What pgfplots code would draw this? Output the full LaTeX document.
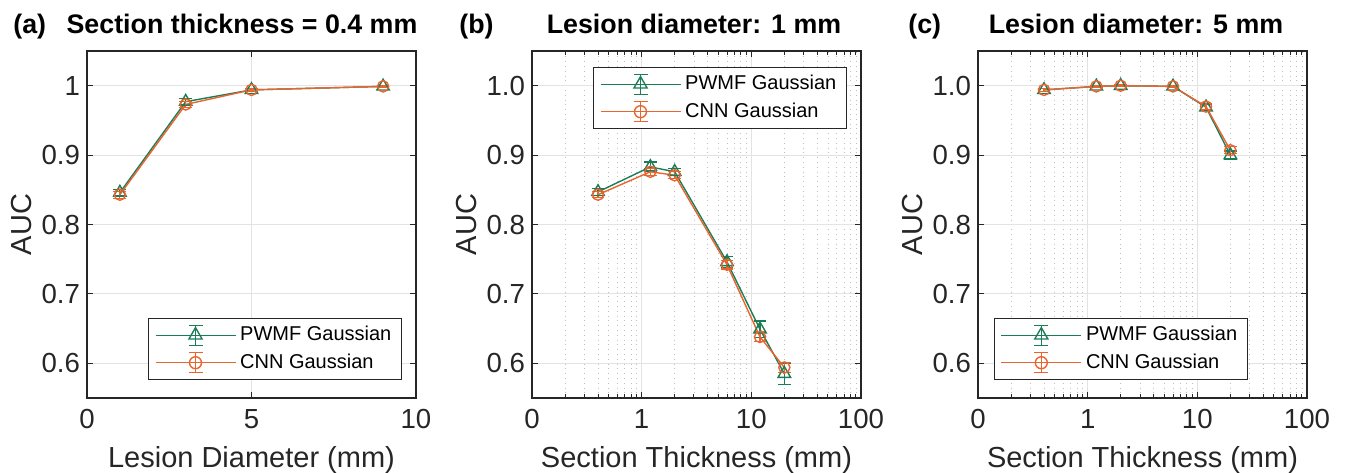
\documentclass[border=0pt]{standalone}
\usepackage{fontspec}
\setmainfont{Liberation Sans}
\usepackage{pgfplots}
\pgfplotsset{compat=1.18}

\definecolor{pwmf}{RGB}{27,125,88}
\definecolor{cnn}{RGB}{234,100,46}
\definecolor{axgray}{RGB}{38,38,38}

\pgfplotsset{
  panel/.style={
    scale only axis, width=164.5pt, height=173.5pt,
    anchor=north west,
    ymin=0.55, ymax=1.05,
    ytick={0.6,0.7,0.8,0.9,1.0},
    axis line style={axgray, line width=0.6pt},
    tick style={axgray, line width=0.5pt},
    tick align=inside,
    major tick length=3pt, minor tick length=1.8pt,
    grid=major,
    major grid style={gray!22, line width=0.5pt},
    minor grid style={gray!50, line width=0.4pt, dotted},
    tick label style={font=\fontsize{13.8}{16}\selectfont, text=axgray},
    xticklabel style={yshift=-2pt},
    label style={font=\fontsize{14.5}{17}\selectfont, text=axgray},
    /pgf/number format/assume math mode=true,
    xlabel style={yshift=-2pt},
    ylabel style={yshift=-2pt},
    ylabel={AUC},
    legend style={font=\fontsize{10}{12}\selectfont, draw=axgray, line width=0.5pt,
      inner xsep=3pt, inner ysep=2pt, row sep=1pt, cells={anchor=west}},
    legend cell align=left,
  },
  pw/.style={pwmf, line width=0.7pt, mark=triangle, mark size=3.6pt,
    error bars/.cd, y dir=both, y explicit,
    error bar style={pwmf, line width=0.6pt},
    error mark options={pwmf, rotate=90, mark size=3.2pt, line width=0.6pt},
    /pgfplots/.cd,
    legend image code/.code={
      \draw[pwmf, line width=0.7pt] (0pt,0pt) -- (40pt,0pt);
      \draw[pwmf, line width=0.6pt] (20pt,-5pt) -- (20pt,5pt)
        (16.5pt,-5pt) -- (23.5pt,-5pt) (16.5pt,5pt) -- (23.5pt,5pt);
      \draw[pwmf, line width=0.7pt] plot[mark=triangle, mark size=3.8pt] coordinates {(20pt,0pt)};
    }},
  cn/.style={cnn, line width=0.7pt, mark=o, mark size=2.8pt,
    error bars/.cd, y dir=both, y explicit,
    error bar style={cnn, line width=0.6pt},
    error mark options={cnn, rotate=90, mark size=3.2pt, line width=0.6pt},
    /pgfplots/.cd,
    legend image code/.code={
      \draw[cnn, line width=0.7pt] (0pt,0pt) -- (40pt,0pt);
      \draw[cnn, line width=0.6pt] (20pt,-5pt) -- (20pt,5pt)
        (16.5pt,-5pt) -- (23.5pt,-5pt) (16.5pt,5pt) -- (23.5pt,5pt);
      \draw[cnn, line width=0.7pt] plot[mark=o, mark size=3pt] coordinates {(20pt,0pt)};
    }},
  logpanel/.style={
    panel, xmin=0.1, xmax=100,
    xtick={0.1,1,10,100}, xticklabels={0,1,10,100},
    xminorgrids=true,
    yticklabel style={/pgf/number format/.cd, fixed, fixed zerofill, precision=1},
    xlabel={Section Thickness (mm)},
  },
}

\begin{document}
\begin{tikzpicture}
\path[use as bounding box] (0,0) rectangle (672.5pt,-236pt);

% (a)
\begin{axis}[panel, at={(43.5pt,-25.5pt)},
  xmin=0, xmax=10, xtick={0,5,10},
  xlabel={Lesion Diameter (mm)},
  yticklabel style={/pgf/number format/.cd, fixed},
  legend style={at={(0.957,0.052)}, anchor=south east}]
\addplot[pw] coordinates {
  (1,0.846) +- (0,0.005)
  (3,0.977) +- (0,0.004)
  (5,0.994) +- (0,0.002)
  (9,0.999) +- (0,0.001)
};
\addlegendentry{PWMF Gaussian}
\addplot[cn] coordinates {
  (1,0.843) +- (0,0.005)
  (3,0.973) +- (0,0.004)
  (5,0.994) +- (0,0.002)
  (9,0.999) +- (0,0.001)
};
\addlegendentry{CNN Gaussian}
\end{axis}

% (b)
\begin{axis}[xmode=log, logpanel, at={(266pt,-25.5pt)},
  legend style={at={(0.957,0.954)}, anchor=north east}]
\addplot[pw] coordinates {
  (0.4,0.847) +- (0,0.005)
  (1.2,0.883) +- (0,0.007)
  (2,0.876) +- (0,0.005)
  (6,0.746) +- (0,0.008)
  (12,0.649) +- (0,0.012)
  (20,0.585) +- (0,0.015)
};
\addlegendentry{PWMF Gaussian}
\addplot[cn] coordinates {
  (0.4,0.843) +- (0,0.004)
  (1.2,0.876) +- (0,0.005)
  (2,0.871) +- (0,0.005)
  (6,0.742) +- (0,0.006)
  (12,0.638) +- (0,0.007)
  (20,0.594) +- (0,0.007)
};
\addlegendentry{CNN Gaussian}
\end{axis}

% (c)
\begin{axis}[xmode=log, logpanel, at={(489pt,-25.5pt)},
  legend style={at={(0.049,0.052)}, anchor=south west}]
\addplot[pw] coordinates {
  (0.4,0.994) +- (0,0.002)
  (1.2,0.999) +- (0,0.001)
  (2,1.000) +- (0,0.001)
  (6,0.999) +- (0,0.001)
  (12,0.969) +- (0,0.004)
  (20,0.900) +- (0,0.006)
};
\addlegendentry{PWMF Gaussian}
\addplot[cn] coordinates {
  (0.4,0.994) +- (0,0.002)
  (1.2,0.999) +- (0,0.001)
  (2,1.000) +- (0,0.001)
  (6,0.999) +- (0,0.001)
  (12,0.970) +- (0,0.004)
  (20,0.907) +- (0,0.005)
};
\addlegendentry{CNN Gaussian}
\end{axis}

% panel titles
\tikzset{ttl/.style={inner sep=0pt, font=\fontsize{13.4}{15}\selectfont\bfseries}}
\node[ttl, anchor=base west] at (6.5pt,-16.5pt) {(a)};
\node[ttl, anchor=base] at (121pt,-16.5pt) {Section thickness = 0.4 mm};
\node[ttl, anchor=base west] at (229.5pt,-16.5pt) {(b)};
\node[ttl, anchor=base] at (347pt,-16.5pt) {Lesion diameter: 1 mm};
\node[ttl, anchor=base west] at (454pt,-16.5pt) {(c)};
\node[ttl, anchor=base] at (568pt,-16.5pt) {Lesion diameter: 5 mm};
\end{tikzpicture}
\end{document}
